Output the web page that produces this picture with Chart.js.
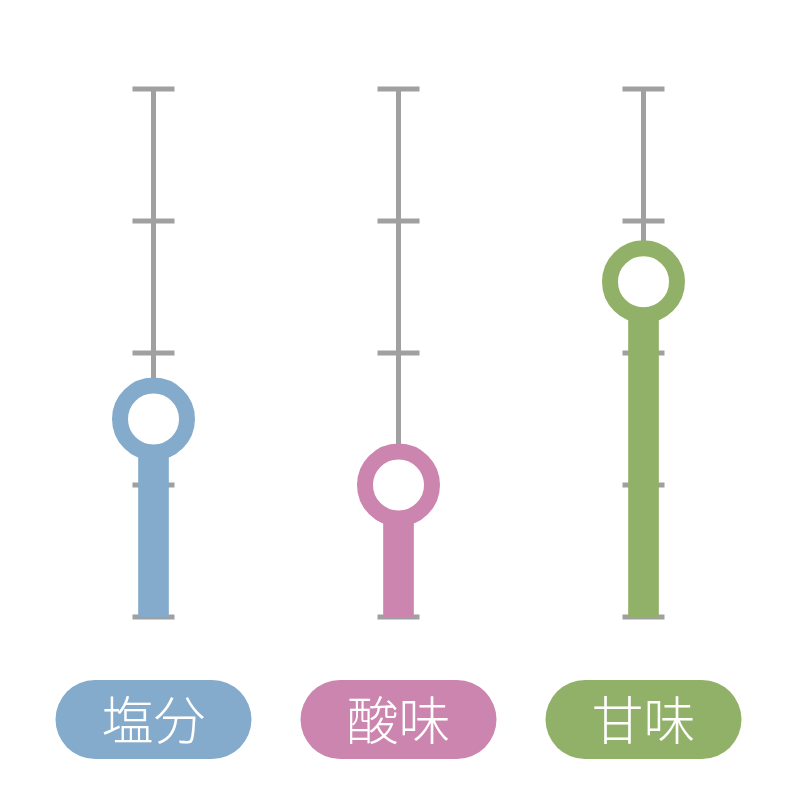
<!DOCTYPE html>
<html>
<head>
<meta charset="utf-8">
<script src="https://cdn.jsdelivr.net/npm/chart.js@4"></script>
<style>
html,body{margin:0;padding:0;background:#fff;}
#wrap{width:800px;height:800px;}
</style>
</head>
<body>
<div id="wrap"><canvas id="c" width="800" height="800"></canvas></div>
<script>
const categories = ['塩分', '酸味', '甘味'];
const values = [1.5, 1.0, 2.54];
const colors = ['#84abcb', '#cc85ae', '#92b168'];
const tickValues = [0, 1, 2, 3, 4];

const guidePlugin = {
  id: 'guides',
  beforeDatasetsDraw(chart) {
    const ctx = chart.ctx, xs = chart.scales.x, ys = chart.scales.y;
    ctx.save();
    ctx.fillStyle = '#a0a0a0';
    const top = ys.getPixelForValue(tickValues[tickValues.length - 1]);
    const bot = ys.getPixelForValue(tickValues[0]);
    categories.forEach((c, i) => {
      const x = xs.getPixelForValue(i);
      ctx.fillRect(x - 2.5, top, 5, bot - top);
      tickValues.forEach(v => {
        const y = ys.getPixelForValue(v);
        ctx.fillRect(x - 21, y - 2.5, 42, 5);
      });
    });
    ctx.restore();
  },
  afterDraw(chart) {
    const ctx = chart.ctx, xs = chart.scales.x;
    ctx.save();
    const h = 79, w = 196, yTop = 680;
    categories.forEach((c, i) => {
      const x = xs.getPixelForValue(i);
      const r = h / 2;
      ctx.fillStyle = colors[i];
      ctx.beginPath();
      ctx.moveTo(x - w / 2 + r, yTop);
      ctx.lineTo(x + w / 2 - r, yTop);
      ctx.arc(x + w / 2 - r, yTop + r, r, -Math.PI / 2, Math.PI / 2);
      ctx.lineTo(x - w / 2 + r, yTop + h);
      ctx.arc(x - w / 2 + r, yTop + r, r, Math.PI / 2, Math.PI * 1.5);
      ctx.closePath();
      ctx.fill();
      ctx.fillStyle = '#ffffff';
      ctx.font = '300 52px "Noto Sans CJK JP"';
      ctx.textAlign = 'center';
      ctx.textBaseline = 'middle';
      ctx.fillText(c, x, yTop + r + 1);
    });
    ctx.restore();
  }
};

new Chart(document.getElementById('c'), {
  type: 'bar',
  data: {
    labels: categories,
    datasets: [
      {
        type: 'line',
        data: values,
        showLine: false,
        pointRadius: 33.5,
        pointHoverRadius: 33.5,
        pointBorderWidth: 16,
        pointHoverBorderWidth: 16,
        pointBackgroundColor: '#ffffff',
        pointBorderColor: colors,
        order: 0
      },
      {
        type: 'bar',
        data: values,
        backgroundColor: colors,
        barThickness: 30,
        order: 1
      }
    ]
  },
  options: {
    responsive: false,
    animation: false,
    devicePixelRatio: 1,
    layout: { autoPadding: false, padding: { left: 31, right: 34, top: 89, bottom: 183 } },
    plugins: { legend: { display: false }, tooltip: { enabled: false } },
    scales: {
      x: { display: false, offset: true },
      y: { display: false, min: 0, max: 4 }
    }
  },
  plugins: [guidePlugin]
});
</script>
</body>
</html>
